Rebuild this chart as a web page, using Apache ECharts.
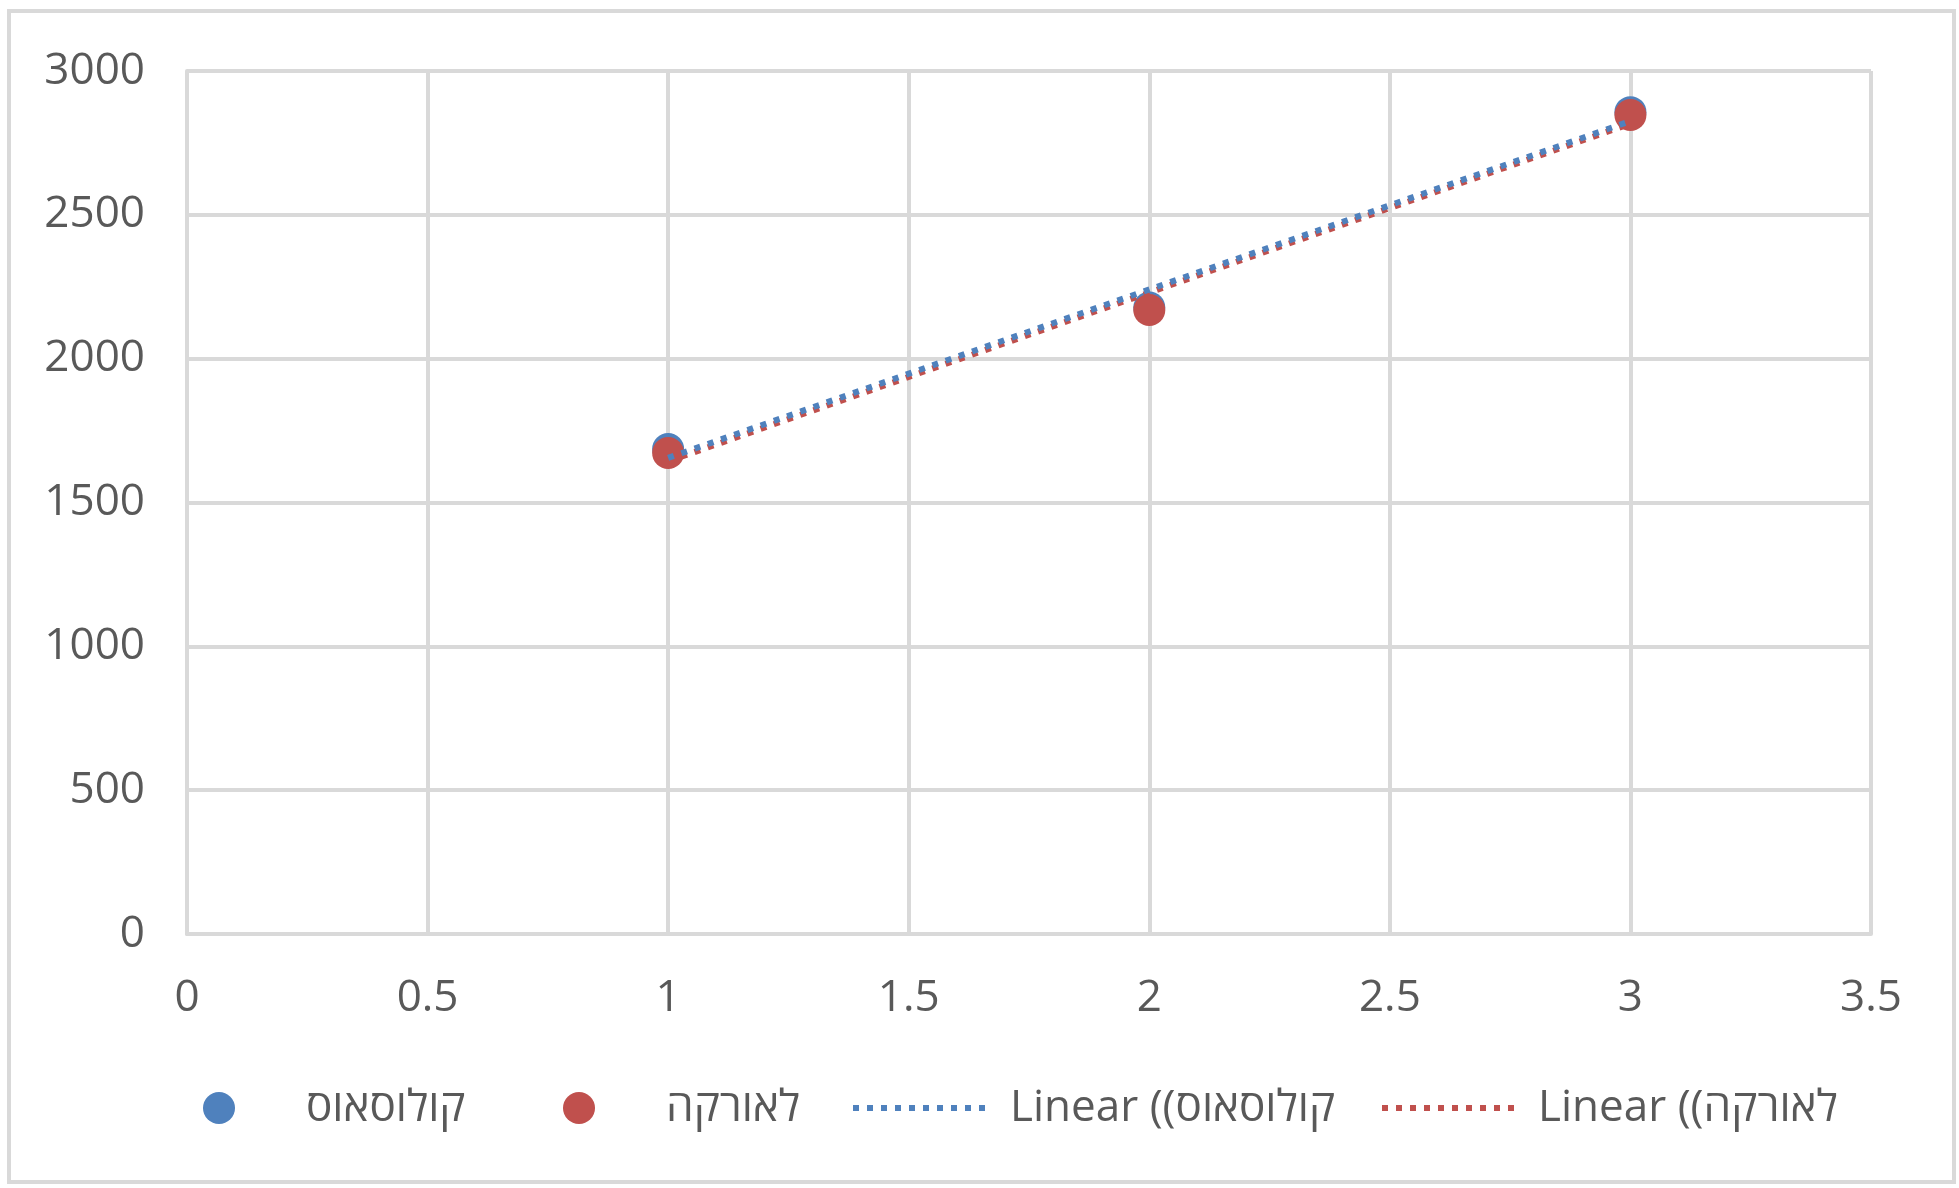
<!DOCTYPE html>
<html><head><meta charset="utf-8">
<script src="https://cdn.jsdelivr.net/npm/echarts@6/dist/echarts.min.js"></script>
<style>html,body{margin:0;padding:0;background:#fff}#c{width:1959px;height:1188px}</style>
</head><body><div id="c"></div>
<script>
const xTicks = [0, 0.5, 1, 1.5, 2, 2.5, 3, 3.5];
const yTicks = [0, 500, 1000, 1500, 2000, 2500, 3000];
const seriesNames = ['קולוסאוס', 'לאורקה'];
const trendNames = ['Linear ((קולוסאוס', 'Linear ((לאורקה'];
const xValues = [1, 2, 3];
const colossusValues = [1686, 2178, 2857];
const laOrcaValues = [1672, 2169, 2847];
// trendline endpoints
const colossusTrendX = [1, 3];
const colossusTrendY = [1655, 2826];
const laOrcaTrendX = [1, 3];
const laOrcaTrendY = [1643, 2817];

const blue = '#4F81BD', red = '#C0504D';
const font = '"Open Sans","DejaVu Sans",sans-serif';
const txt = '#595959';
const gridCol = '#D9D9D9';
const FS = 44;
const pts = (xs, ys) => xs.map((x, i) => [x, ys[i]]);

const chart = echarts.init(document.getElementById('c'));
function legendAt(name, left, iw, ih, icon, pad, lineColor) {
  const item = { name: name };
  if (icon) item.icon = icon;
  const l = {
    data: [item],
    left: left, top: 1108 - 26, itemWidth: iw, itemHeight: ih,
    itemGap: 0, padding: 0,
    textStyle: { fontFamily: font, fontSize: FS, color: txt, padding: [0, 0, 0, pad], lineHeight: 52 },
    selectedMode: false
  };
  if (lineColor) {
    l.itemStyle = { opacity: 0 };
    l.lineStyle = { color: lineColor, width: 6, type: [6, 8], cap: 'butt', opacity: 1 };
  }
  return l;
}
chart.setOption({
  animation: false,
  backgroundColor: '#fff',
  graphic: [{ type: 'rect', shape: { x: 9, y: 11, width: 1945, height: 1171 }, style: { fill: 'none', stroke: gridCol, lineWidth: 4 }, silent: true }],
  grid: { left: 187, right: 88, top: 71, bottom: 254, containLabel: false },
  xAxis: {
    type: 'value', min: xTicks[0], max: xTicks[xTicks.length - 1], interval: 0.5,
    axisLine: { show: true, lineStyle: { color: gridCol, width: 4 } },
    axisTick: { show: false },
    axisLabel: { fontFamily: font, fontSize: FS, color: txt, margin: 42, formatter: v => String(v) },
    splitLine: { show: true, lineStyle: { color: gridCol, width: 4 } }
  },
  yAxis: {
    type: 'value', min: yTicks[0], max: yTicks[yTicks.length - 1], interval: 500,
    axisLine: { show: true, lineStyle: { color: gridCol, width: 4 } },
    axisTick: { show: false },
    axisLabel: { fontFamily: font, fontSize: FS, color: txt, margin: 42, formatter: v => String(v) },
    splitLine: { show: true, lineStyle: { color: gridCol, width: 4 } }
  },
  legend: [
    legendAt(seriesNames[0], 203, 32, 32, 'circle', 66, null),
    legendAt(seriesNames[1], 563, 32, 32, 'circle', 66, null),
    legendAt(trendNames[0], 850, 137, 16, null, 15, blue),
    legendAt(trendNames[1], 1379, 133, 16, null, 18, red)
  ],
  series: [
    { name: seriesNames[0], type: 'scatter', data: pts(xValues, colossusValues), symbolSize: 32, itemStyle: { color: blue, opacity: 1 }, z: 2 },
    { name: seriesNames[1], type: 'scatter', data: pts(xValues, laOrcaValues), symbolSize: 32, itemStyle: { color: red, opacity: 1 }, z: 3 },
    { name: trendNames[0], type: 'line', data: pts(colossusTrendX, colossusTrendY), symbol: 'none', itemStyle: { color: blue },
      lineStyle: { color: blue, width: 6, type: [6, 8], cap: 'butt' }, z: 5 },
    { name: trendNames[1], type: 'line', data: pts(laOrcaTrendX, laOrcaTrendY), symbol: 'none', itemStyle: { color: red },
      lineStyle: { color: red, width: 6, type: [6, 8], cap: 'butt' }, z: 4 }
  ]
});
</script></body></html>
